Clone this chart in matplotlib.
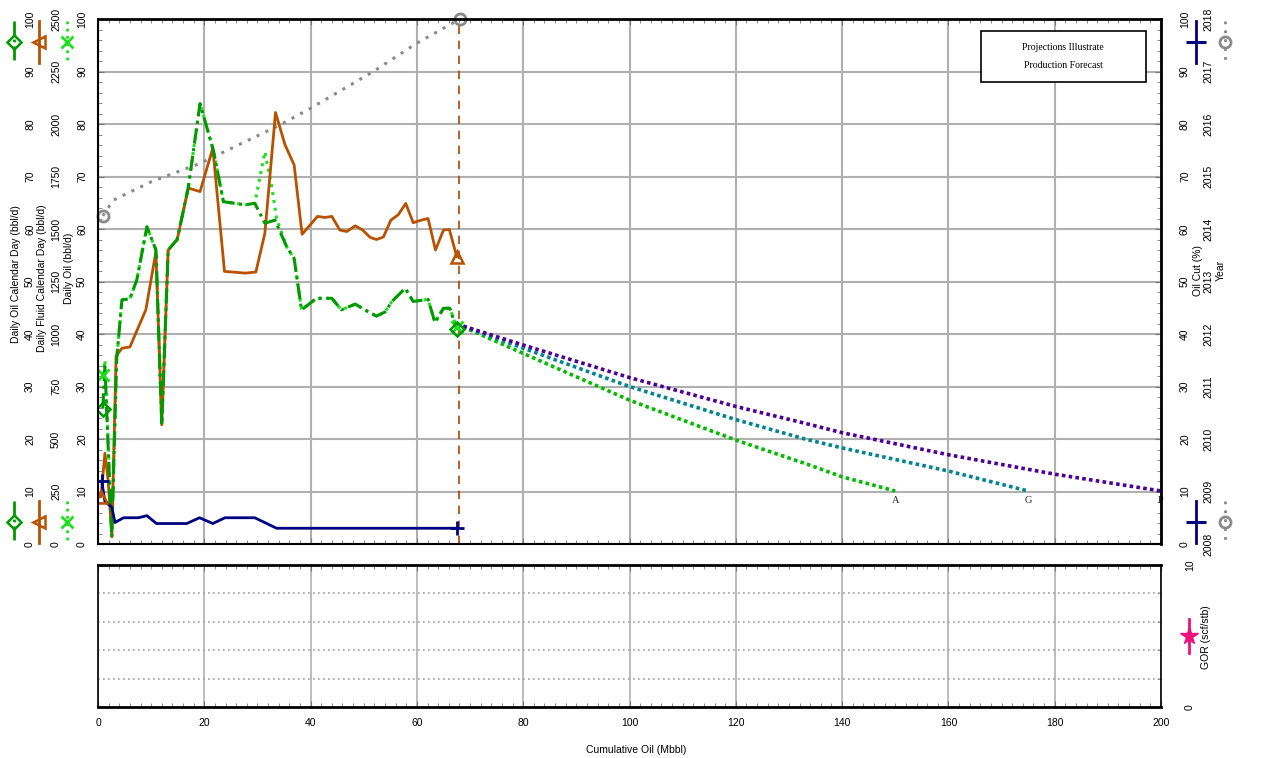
import matplotlib
matplotlib.use('Agg')
import matplotlib.pyplot as plt
from matplotlib.lines import Line2D
from matplotlib.patches import Rectangle
from matplotlib.transforms import blended_transform_factory
from matplotlib.ticker import MultipleLocator

plt.rcParams['font.family'] = ['Liberation Sans', 'DejaVu Sans']

# ---- data ----
# daily oil calendar day (bbl/d), dash-dot green
oil_x = [0.9, 1.3, 2.6, 3.5, 4.5, 6.0, 7.3, 9.2, 10.9, 12.0, 13.2, 14.9, 17.0, 19.2, 21.7, 23.6,
         27.7, 29.5, 31.4, 33.3, 35.5, 36.9, 38.3, 41.1, 44.0, 45.8, 48.4, 50.2, 52.4, 54.0, 55.3,
         57.8, 59.3, 62.1, 63.4, 65.0, 66.2, 67.5]
oil_cd = [25.8, 33.8, 1.4, 35.0, 46.5, 46.7, 50.3, 60.4, 56.0, 22.7, 56.0, 58.0, 68.0, 83.9, 75.0, 65.2,
          64.6, 64.9, 61.1, 61.7, 56.6, 54.4, 44.6, 46.8, 46.8, 44.6, 45.7, 44.6, 43.4, 44.2, 46.2,
          48.7, 46.2, 46.6, 42.2, 44.9, 44.9, 40.9]
# daily oil (bbl/d), dotted bright green
dly_x = [0.9, 1.3, 2.6, 3.5, 4.5, 6.0, 7.3, 9.2, 10.9, 12.0, 13.2, 14.9, 17.0, 19.2, 21.7, 23.6,
         27.7, 29.5, 31.4, 32.7, 33.6, 35.5, 36.9, 38.3, 41.1, 44.0, 45.8, 48.4, 50.2, 52.4, 54.0,
         55.3, 57.8, 59.3, 62.1, 63.4, 65.0, 66.2, 67.5]
dly_oil = [32.2, 35.0, 1.4, 35.0, 46.5, 46.7, 50.3, 60.4, 56.0, 22.7, 56.0, 58.0, 68.0, 83.9, 75.0, 65.2,
           64.6, 64.9, 74.7, 68.0, 62.0, 56.6, 54.4, 44.6, 46.8, 46.8, 44.6, 45.7, 44.6, 43.4, 44.2,
           46.2, 48.7, 46.2, 46.6, 42.2, 44.9, 44.9, 41.3]
# daily fluid calendar day (bbl/d), brown
fl_x = [0.56, 1.3, 1.9, 2.6, 3.4, 4.5, 6.0, 9.0, 10.9, 12.0, 13.2, 14.9, 17.0, 19.2, 21.6, 23.8,
        27.7, 29.7, 31.4, 33.4, 35.2, 36.9, 38.4, 41.3, 42.7, 44.0, 45.5, 46.8, 48.4, 49.8, 51.2,
        52.4, 53.7, 55.1, 56.5, 57.9, 59.3, 60.8, 62.1, 63.5, 65.0, 66.1, 67.5]
fluid = [225, 432, 305, 35, 895, 932, 938, 1115, 1392, 568, 1400, 1450, 1695, 1678, 1885, 1298,
         1290, 1295, 1480, 2055, 1900, 1805, 1475, 1560, 1555, 1560, 1495, 1488, 1515, 1495, 1460,
         1450, 1462, 1542, 1568, 1622, 1530, 1542, 1550, 1400, 1495, 1498, 1368]
# oil cut (%), navy
oc_x = [0.7, 1.3, 2.6, 3.2, 4.8, 7.6, 9.2, 11.0, 16.7, 19.1, 21.6, 23.9, 29.5, 33.6, 67.5]
oil_cut = [12, 8.1, 7, 4.1, 5, 5, 5.4, 3.9, 3.9, 5, 3.9, 5, 5, 3, 3]
# year, gray dotted
yr_x = [0.9, 2.9, 10.0, 19.2, 34.2, 40.0, 51.8, 60.0, 68.1]
year = [2014.25, 2014.55, 2014.9, 2015.25, 2015.98, 2016.3, 2017.0, 2017.54, 2018.0]

# forecasts
fc_a_x = [67.5, 80, 100, 120, 134, 140, 150]
fc_a_y = [41.9, 36.3, 27.4, 19.8, 15.0, 12.8, 10.1]
fc_g_x = [67.5, 80, 100, 120, 133, 140, 160, 175]
fc_g_y = [41.9, 37.3, 30.0, 23.7, 20.0, 18.3, 13.9, 10.1]
fc_p_x = [67.5, 80, 100, 120, 133, 140, 160, 180, 200]
fc_p_y = [41.9, 37.9, 31.7, 26.2, 23.0, 21.2, 17.0, 13.3, 10.1]
cutoff_x = 68

oil_ticks = list(range(0, 101, 10))
fluid_ticks = list(range(0, 2501, 250))
year_ticks = list(range(2008, 2019))

GREEN = '#009a00'
LGREEN = '#1ee01e'
BROWN = '#b85200'
NAVY = '#000080'
GRAY = '#8a8a8a'
PINK = '#f0107a'

W, H = 1281, 758
fig = plt.figure(figsize=(12.81, 7.58), dpi=100)


def fx(px):
    return px / W


def fy(py):
    return 1 - py / H


ax = fig.add_axes([fx(98), fy(544), 1063 / W, 525 / H])
ax2 = fig.add_axes([fx(98), fy(707), 1063 / W, 142 / H])

# ---- main panel ----
ax.set_xlim(0, 200)
ax.set_ylim(0, 100)
ax.set_xticks(range(0, 201, 20))
ax.set_yticks(oil_ticks)
ax.xaxis.set_minor_locator(MultipleLocator(2))
ax.yaxis.set_minor_locator(MultipleLocator(2))
ax.grid(True, color='#b0b0b0', lw=1.5)
ax.set_axisbelow(True)
ax.tick_params(which='both', direction='in', labelleft=False, labelbottom=False,
               left=True, right=True, top=True, bottom=True, color='#777777')
ax.tick_params(which='major', length=4)
ax.tick_params(which='minor', length=3)
for s in ax.spines.values():
    s.set_linewidth(1.5)
ax.spines['top'].set_linewidth(2)
ax.spines['right'].set_linewidth(2)

ax.axvline(cutoff_x, color='#a84800', lw=1.2, ls=(0, (5, 4)))

ax.plot(fc_a_x, fc_a_y, color='#00bb00', lw=2.6, ls=(0, (1, 0.9)))
ax.plot(fc_g_x, fc_g_y, color='#00858f', lw=2.6, ls=(0, (1, 0.9)))
ax.plot(fc_p_x, fc_p_y, color='#4a0099', lw=2.6, ls=(0, (1, 0.9)))
for xx, lab in [(fc_a_x[-1], 'A'), (fc_g_x[-1], 'G'), (fc_p_x[-1], 'P')]:
    ax.text(xx, 8.3, lab, ha='center', va='center', fontsize=7.5, family='Liberation Serif',
            color='#222222', clip_on=False, zorder=1)

ax.plot(yr_x, [(y - 2008) * 10 for y in year], color=GRAY, lw=2.2, ls=(0, (1, 2.2)), clip_on=False)
ax.plot(dly_x, dly_oil, color=LGREEN, lw=2.2, ls=(0, (1, 1.6)))
ax.plot(fl_x, [f / 25 for f in fluid], color=BROWN, lw=2)
ax.plot(oil_x, oil_cd, color=GREEN, lw=2.2, ls=(0, (5, 1.5, 1, 1.5)))
ax.plot(oc_x, oil_cut, color=NAVY, lw=2)

# end markers
for i in (0, -1):
    ax.plot(dly_x[i], dly_oil[i], marker='x', ms=8, mec=LGREEN, mew=2)
    ax.plot(oil_x[i], oil_cd[i], marker='D', ms=7, mfc='none', mec=GREEN, mew=1.8)
    ax.plot(fl_x[i], fluid[i] / 25, marker='^', ms=9, mfc='none', mec=BROWN, mew=1.8)
    ax.plot(oc_x[i], oil_cut[i], marker='+', ms=10, mec=NAVY, mew=2)
    ax.plot(yr_x[i], (year[i] - 2008) * 10, marker='o', ms=8, mfc='none', mec=GRAY, mew=2, clip_on=False)

# tick label columns
tr = blended_transform_factory(fig.transFigure, ax.transData)
for v in oil_ticks:
    ax.text(fx(30), v, str(v), transform=tr, rotation=90, ha='center', va='center', fontsize=7.5)
    ax.text(fx(82), v, str(v), transform=tr, rotation=90, ha='center', va='center', fontsize=7.5)
    ax.text(fx(1185), v, str(v), transform=tr, rotation=90, ha='center', va='center', fontsize=7.5)
for v in fluid_ticks:
    ax.text(fx(56), v / 25, str(v), transform=tr, rotation=90, ha='center', va='center', fontsize=7.5)
for v in year_ticks:
    ax.text(fx(1208), (v - 2008) * 10, str(v), transform=tr, rotation=90, ha='center', va='center',
            fontsize=7.5)

fig.text(fx(16), fy(274), 'Daily Oil Calendar Day (bbl/d)', rotation=90, ha='center', va='center', fontsize=7.5)
fig.text(fx(42), fy(278), 'Daily Fluid Calendar Day (bbl/d)', rotation=90, ha='center', va='center', fontsize=7.5)
fig.text(fx(69), fy(268), 'Daily Oil (bbl/d)', rotation=90, ha='center', va='center', fontsize=7.5)
fig.text(fx(1198), fy(270), 'Oil Cut (%)', rotation=90, ha='center', va='center', fontsize=7.5)
fig.text(fx(1221), fy(270), 'Year', rotation=90, ha='center', va='center', fontsize=7.5)


# rotated legend symbols
def legend_sym(px, pcy, color, ls, marker, ms, mew, mfc='none', half=21):
    fig.add_artist(Line2D([fx(px)] * 3, [fy(pcy - half), fy(pcy), fy(pcy + half)], transform=fig.transFigure,
                          color=color, ls=ls, lw=2, marker=marker, markevery=[1], ms=ms, mfc=mfc,
                          mec=color, mew=mew))


for cy in (42, 522):
    legend_sym(14, cy, GREEN, (0, (5, 1.5, 1, 1.5)), 'D', 7, 1.8)
    legend_sym(39, cy, BROWN, '-', '<', 9, 1.8)
    legend_sym(67, cy, LGREEN, (0, (1, 1.6)), 'x', 8, 2)
    legend_sym(1196, cy, NAVY, '-', '_', 14, 2.2)
    legend_sym(1225, cy, GRAY, (0, (1, 2.2)), 'o', 8, 2)

# note box
fig.add_artist(Rectangle((fx(981), fy(82)), (1146 - 981) / W, 51 / H, transform=fig.transFigure,
                         facecolor='white', edgecolor='black', lw=1.2, zorder=5))
fig.text(fx(1063), fy(47), 'Projections Illustrate', ha='center', va='center', fontsize=7,
         family='Liberation Serif', zorder=6)
fig.text(fx(1063), fy(65), 'Production Forecast', ha='center', va='center', fontsize=7,
         family='Liberation Serif', zorder=6)

# ---- GOR panel ----
ax2.set_xlim(0, 200)
ax2.set_ylim(0, 10)
ax2.set_xticks(range(0, 201, 20))
ax2.set_yticks([])
ax2.xaxis.set_minor_locator(MultipleLocator(2))
ax2.yaxis.set_minor_locator(MultipleLocator(2))
ax2.grid(True, axis='x', color='#b0b0b0', lw=1.2)
for g in (2, 4, 6, 8):
    ax2.axhline(g, color='#a0a0a0', lw=1.2, ls=(0, (1, 2)))
ax2.set_axisbelow(True)
ax2.tick_params(which='both', direction='in', top=True, bottom=True, right=True, left=False,
                color='#777777', labelsize=7.5, pad=8)
ax2.tick_params(which='minor', length=3)
ax2.tick_params(which='major', length=4)
for s in ax2.spines.values():
    s.set_linewidth(1.2)
ax2.spines['top'].set_linewidth(2)
ax2.spines['bottom'].set_linewidth(2)

tr2 = blended_transform_factory(fig.transFigure, ax2.transData)
for v in (0, 10):
    ax2.text(fx(1190), v, str(v), transform=tr2, rotation=90, ha='center', va='center', fontsize=7.5)
fig.text(fx(1206), fy(637), 'GOR (scf/stb)', rotation=90, ha='center', va='center', fontsize=7.5)
fig.add_artist(Line2D([fx(1189)] * 3, [fy(619), fy(636), fy(653)], transform=fig.transFigure,
                      color=PINK, lw=2, marker='*', markevery=[1], ms=13, mfc=PINK, mec=PINK))

fig.text(fx(636), fy(750), 'Cumulative Oil (Mbbl)', ha='center', va='center', fontsize=7.5)

fig.savefig('out.png', dpi=100)
